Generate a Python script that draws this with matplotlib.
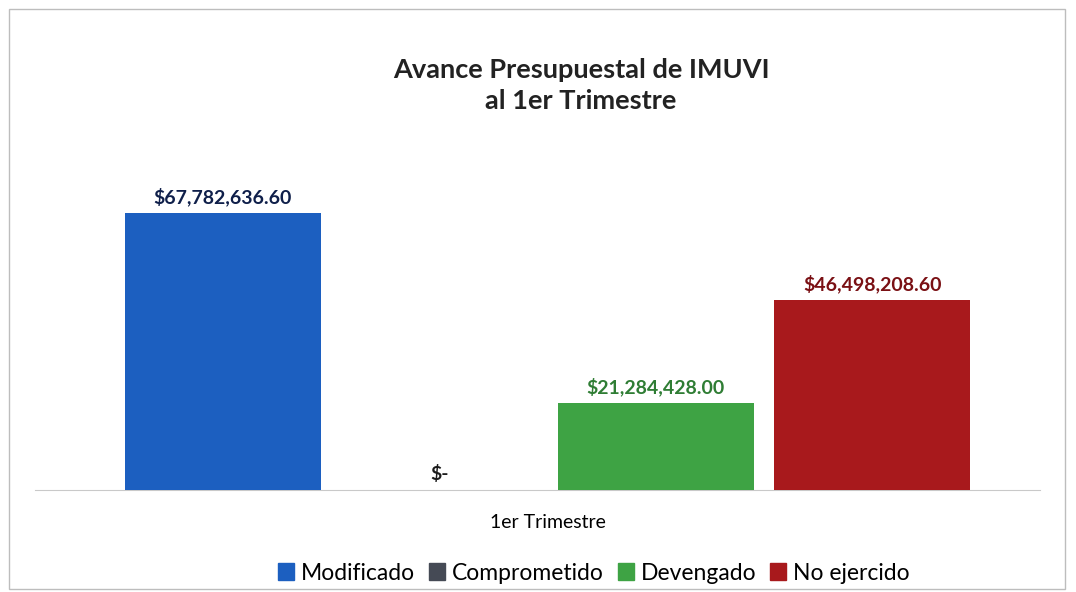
import matplotlib

matplotlib.use("Agg")
import matplotlib.pyplot as plt
import numpy as np
from matplotlib.patches import Rectangle

series = ["Modificado", "Comprometido", "Devengado", "No ejercido"]
values = [67782636.60, 0.0, 21284428.00, 46498208.60]
labels = ["$67,782,636.60", "$-", "$21,284,428.00", "$46,498,208.60"]
category = "1er Trimestre"

BAR_COLOR = ["#1c5fc0", "#454a55", "#3ea344", "#a8191c"]
LABEL_COLOR = ["#0f1f4a", "#1b1b1b", "#2f7d34", "#7a1014"]

plt.rcParams.update({"font.family": ["Lato", "DejaVu Sans"]})

fig = plt.figure(figsize=(10.76, 5.92), dpi=100)
ax = fig.add_axes([35 / 1076, 1 - 490 / 592, 1005 / 1076, 327 / 592])

w = 0.195
x = (np.arange(len(series)) - 1.5) * (w + 0.0205)
for xi, v, c, lab, lc, name in zip(x, values, BAR_COLOR, labels, LABEL_COLOR, series):
    ax.bar(xi, v, width=w, color=c, label=name, zorder=3)
    ax.text(xi, v + 1.6e6, lab, ha="center", va="bottom", fontsize=14,
            fontweight="bold", color=lc)

ax.set_xlim(-0.51, 0.49)
ax.set_ylim(0, 80e6)
ax.set_yticks([])
ax.set_xticks([0], [category])
ax.tick_params(length=0, labelsize=14, pad=17)
for s in ("top", "right", "left"):
    ax.spines[s].set_visible(False)
ax.spines["bottom"].set_color("#c9c9c9")

fig.text(0.54, 1 - 85 / 592, "Avance Presupuestal de IMUVI\nal 1er Trimestre",
         ha="center", va="center", fontsize=19.5, fontweight="bold", color="#222222",
         linespacing=1.35)

handles = [Rectangle((0, 0), 1, 1, color=c) for c in BAR_COLOR]
fig.legend(handles, series, loc="center", bbox_to_anchor=(0.552, 1 - 573 / 592),
           ncol=4, frameon=False, fontsize=16.5, handlelength=0.7, handleheight=0.7,
           handletextpad=0.3, columnspacing=0.6)

fig.patches.append(Rectangle((0.008, 0.005), 0.982, 0.98, transform=fig.transFigure,
                             fill=False, edgecolor="#bdbdbd", lw=1))

fig.savefig("out.png", dpi=100)
